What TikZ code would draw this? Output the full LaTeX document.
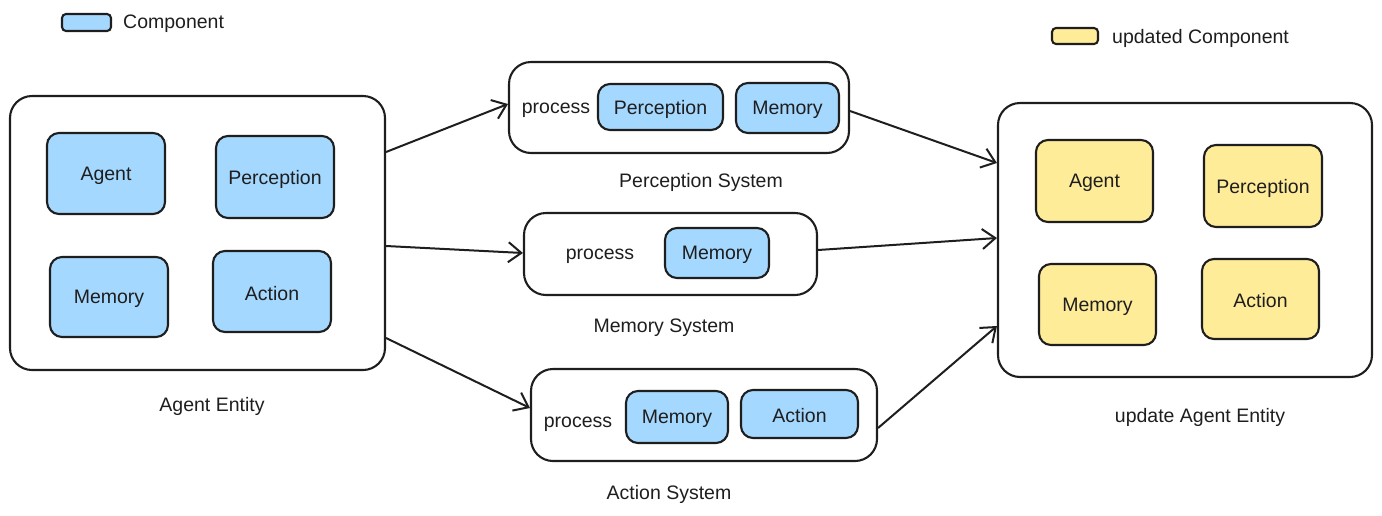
\documentclass[tikz,border=0pt]{standalone}
\usepackage{fontspec}
\setmainfont{Liberation Sans}
\usetikzlibrary{arrows.meta,calc}
\definecolor{compblue}{HTML}{A5D8FF}
\definecolor{compyellow}{HTML}{FFEC99}
\definecolor{ink}{HTML}{1E1E1E}
\begin{document}
\begin{tikzpicture}[x=1pt,y=-1pt,
  txt/.style={font=\fontsize{19.5}{22}\selectfont, text=ink, inner sep=0pt, yshift=-2pt},
  comp/.style={draw=ink, line width=2.1pt, rounded corners=12pt, fill=compblue, inner sep=0pt},
  ucomp/.style={comp, fill=compyellow},
  cont/.style={draw=ink, line width=2.1pt, rounded corners=22pt, fill=white, inner sep=0pt},
  conn/.style={draw=ink, line width=2pt, -{Straight Barb[length=13pt,width=20pt,line width=2pt]}},
]
\useasboundingbox (0,0) rectangle (1382,515);
\newcommand{\bx}[5]{\node[#1, minimum width=#4-#2, minimum height=#5-#3] at ({(#2+#4)/2},{(#3+#5)/2})}
% legend
\bx{comp, rounded corners=4pt}{62}{14}{111}{31} (lgb) {};
\node[txt, anchor=west] (lgbt) at (123,22) {Component};
\bx{ucomp, rounded corners=4pt}{1052}{28}{1098}{44} (lgy) {};
\node[txt, anchor=west] (lgyt) at (1112,36) {updated Component};
% agent entity
\bx{cont}{10}{96}{385}{370} (ent) {};
\bx{comp}{47}{133}{165}{214} (ea) {};
\node[txt] at (ea) {Agent};
\bx{comp}{216}{136}{334}{218} (ep) {};
\node[txt] at (ep) {Perception};
\bx{comp}{50}{257}{168}{337} (em) {};
\node[txt] at (em) {Memory};
\bx{comp}{213}{251}{331}{332} (eac) {};
\node[txt] at (eac) {Action};
\node[txt] (entl) at (212,404) {Agent Entity};
% perception system
\bx{cont}{509}{62}{849}{153} (ps) {};
\node[txt] (psp) at (556,108) {process};
\bx{comp}{598}{84}{723}{130} (psa) {};
\node[txt] at (psa) {Perception};
\bx{comp}{736}{83}{839}{133} (psb) {};
\node[txt] at (psb) {Memory};
\node[txt] (psl) at (701,180) {Perception System};
% memory system
\bx{cont}{524}{213}{817}{295} (ms) {};
\node[txt] (msp) at (600,254) {process};
\bx{comp}{665}{228}{769}{278} (msa) {};
\node[txt] at (msa) {Memory};
\node[txt] (msl) at (664,326) {Memory System};
% action system
\bx{cont}{531}{369}{877}{461} (as) {};
\node[txt] (asp) at (578,422) {process};
\bx{comp}{626}{391}{728}{443} (asa) {};
\node[txt] at (asa) {Memory};
\bx{comp}{741}{390}{858}{438} (asb) {};
\node[txt] at (asb) {Action};
\node[txt] (asl) at (669,492) {Action System};
% updated entity
\bx{cont}{998}{103}{1372}{377} (upd) {};
\bx{ucomp}{1036}{140}{1153}{222} (ua) {};
\node[txt] at (ua) {Agent};
\bx{ucomp}{1204}{145}{1322}{227} (up) {};
\node[txt] at (up) {Perception};
\bx{ucomp}{1039}{264}{1156}{345} (um) {};
\node[txt] at (um) {Memory};
\bx{ucomp}{1202}{259}{1319}{339} (uac) {};
\node[txt] at (uac) {Action};
\node[txt] (updl) at (1200,415) {update Agent Entity};
% connectors
\draw[conn] ([yshift=81pt]ent.east) -- ([yshift=3.5pt]ps.west);
\draw[conn] ([yshift=-13pt]ent.east) -- ([yshift=1pt]ms.west);
\draw[conn] ([yshift=-105pt]ent.east) -- ([yshift=7pt]as.west);
\draw[conn] ([yshift=-3.5pt]ps.east) -- ([yshift=77pt]upd.west);
\draw[conn] ([yshift=4pt]ms.east) -- ([yshift=2pt]upd.west);
\draw[conn] ([yshift=-13pt]as.east) -- ([yshift=-86pt]upd.west);
\end{tikzpicture}
\end{document}
